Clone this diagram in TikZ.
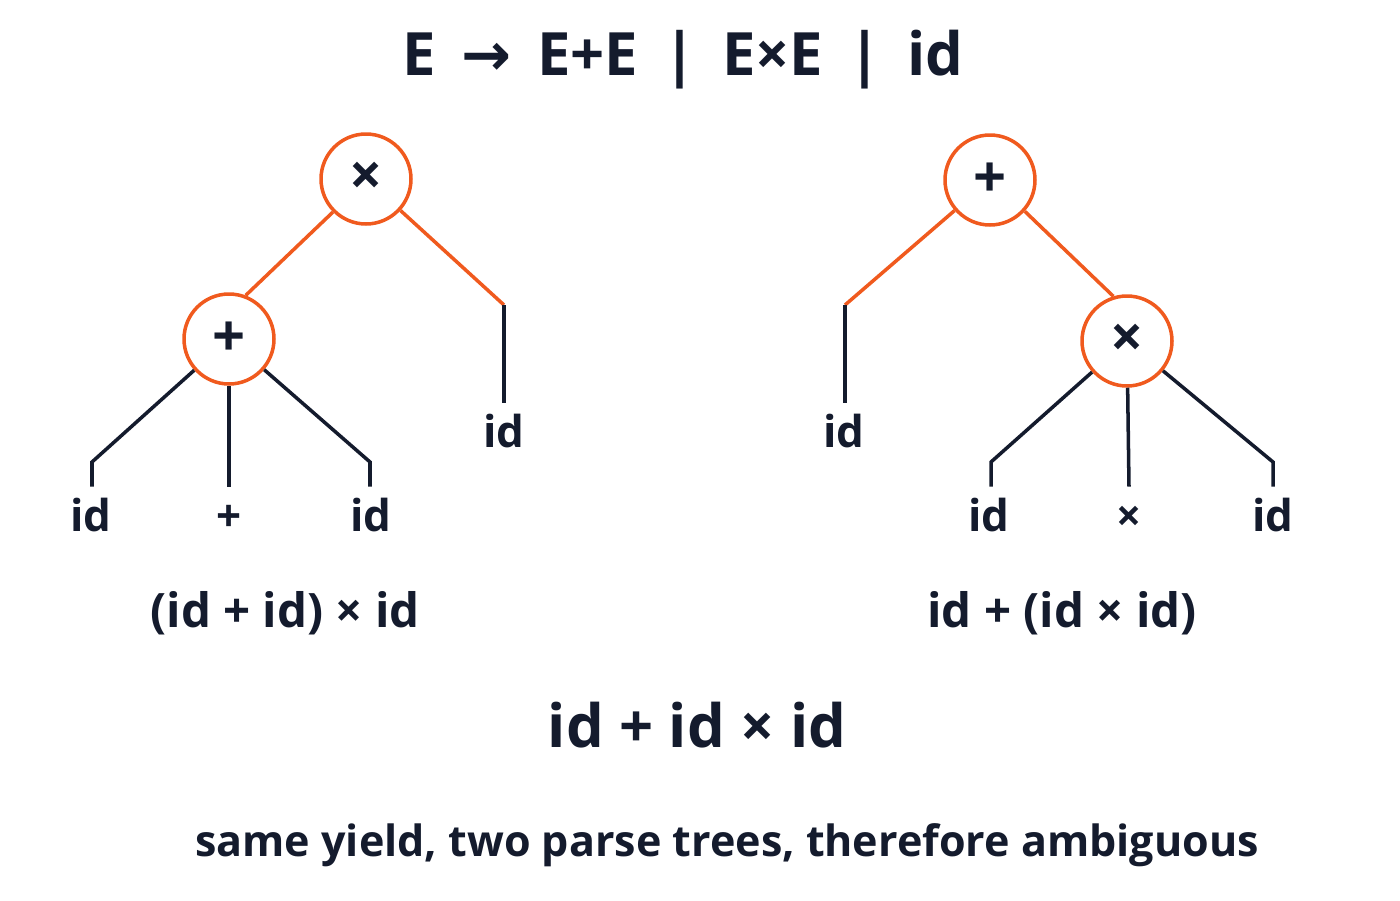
\documentclass[tikz,border=0pt]{standalone}
\usepackage{fontspec}
\setmainfont{Open Sans}
\newfontfamily\symfont{DejaVu Sans}
\definecolor{ink}{RGB}{20,27,45}
\definecolor{accent}{RGB}{240,90,30}
\tikzset{
  op/.style={circle, draw=accent, line width=2pt, fill=white, minimum size=1.8cm, inner sep=0pt,
    text=ink, font=\fontsize{33}{35}\selectfont\bfseries},
  leaf/.style={text=ink, inner sep=0pt, inner ysep=6.5pt, text height=19pt, text depth=0pt,
    font=\fontsize{25}{28}\selectfont\bfseries},
  hot/.style={draw=accent, line width=2pt},
  cold/.style={draw=ink, line width=2pt},
}

\begin{document}
\begin{tikzpicture}[x=0.02cm, y=-0.02cm]
\useasboundingbox (0,0) rectangle (1400,900);
% grammar
\node[text=ink, font=\fontsize{34}{38}\selectfont\bfseries] (rule) at (683,60)
  {E {\symfont\,→\,} E+E \,|\, E×E \,|\, id};

% left tree: (id + id) x id
\node[op] (ltimes) at (366,179) {×};
\node[op] (lplus) at (229,339) {+};
\node[leaf] (lid1) at (91,515) {id};
\node[leaf] (lop) at (229,515) {+};
\node[leaf] (lid2) at (371,515) {id};
\node[leaf] (lid3) at (504,431) {id};
\coordinate (lk1) at (92,462);
\coordinate (lk2) at (370,462);
\coordinate (lk3) at (504,305);
\draw[hot] (ltimes.225) -- (lplus.69);
\draw[hot] (ltimes) -- (lk3);
\draw[cold] (lk3) -- (lk3 |- lid3.north);
\draw[cold] (lplus) -- (lk1) -- (lk1 |- lid1.north);
\draw[cold] (lplus) -- (lop.north);
\draw[cold] (lplus) -- (lk2) -- (lk2 |- lid2.north);
\node[leaf, font=\fontsize{27}{30}\selectfont\bfseries] (lyield) at (285,611) {(id + id) × id};

% right tree: id + (id x id)
\node[op] (rplus) at (990,180) {+};
\node[op] (rtimes) at (1127,341) {×};
\node[leaf] (rid1) at (844,431) {id};
\node[leaf] (rid2) at (989,515) {id};
\node[leaf] (rop) at (1129,515) {×};
\node[leaf] (rid3) at (1273,515) {id};
\coordinate (rk1) at (845,305);
\coordinate (rk2) at (991,462);
\coordinate (rk3) at (1273,462);
\draw[hot] (rplus.318) -- (rtimes.107);
\draw[hot] (rplus) -- (rk1);
\draw[cold] (rk1) -- (rk1 |- rid1.north);
\draw[cold] (rtimes) -- (rk2) -- (rk2 |- rid2.north);
\draw[cold] (rtimes) -- (rop.north);
\draw[cold] (rtimes) -- (rk3) -- (rk3 |- rid3.north);
\node[leaf, font=\fontsize{27}{30}\selectfont\bfseries] (ryield) at (1062,611) {id + (id × id)};

% common yield and verdict
\node[leaf, text height=24pt, font=\fontsize{34}{38}\selectfont\bfseries] (yield) at (697,726) {id + id × id};
\node[text=ink, font=\fontsize{24.5}{28}\selectfont\bfseries] (verdict) at (727,845)
  {same yield, two parse trees, therefore ambiguous};
\end{tikzpicture}
\end{document}
